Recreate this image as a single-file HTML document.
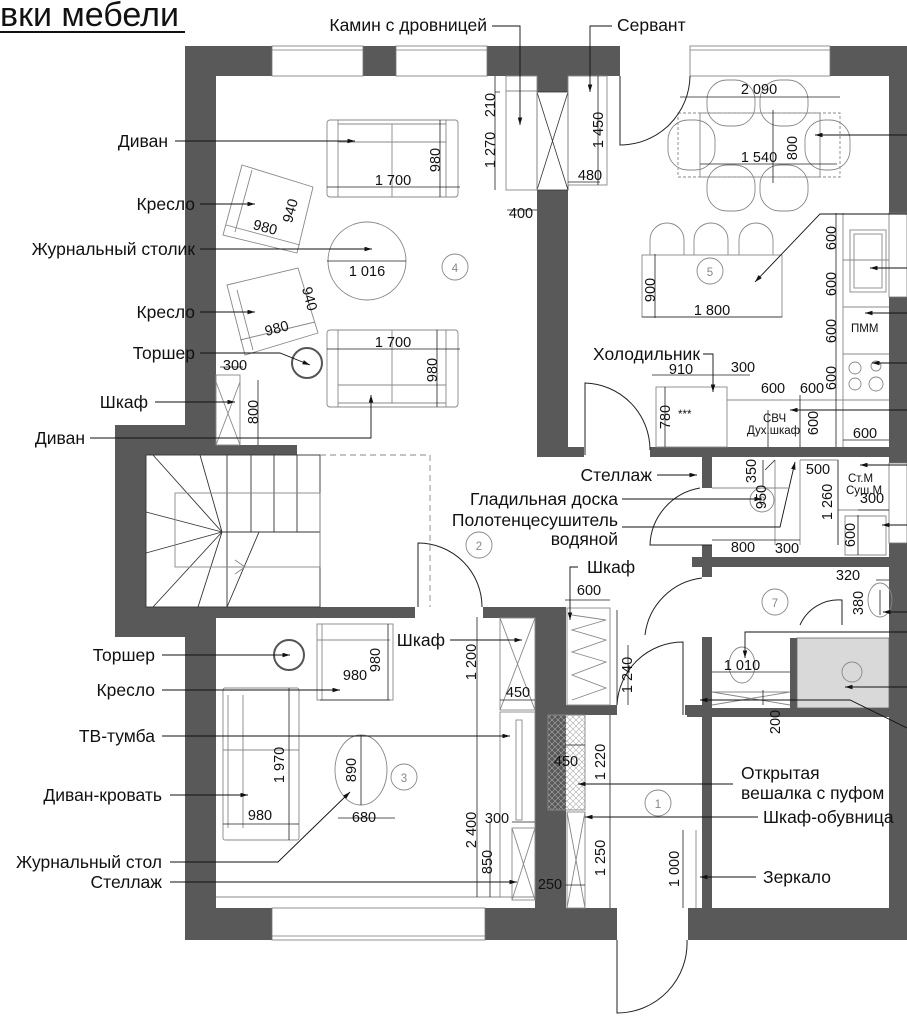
<!DOCTYPE html>
<html><head><meta charset="utf-8"><style>
html,body{margin:0;padding:0;background:#fff;}
svg{display:block;}
text{font-family:"Liberation Sans",sans-serif;fill:#111;}
.l{font-size:17.5px;}
.d{font-size:14.5px;}
.g{font-size:11.5px;fill:#888;}
</style></head><body>
<svg width="907" height="1024" viewBox="0 0 907 1024" xmlns="http://www.w3.org/2000/svg">
<defs>
<marker id="a" viewBox="0 0 10 6" refX="10" refY="3" markerWidth="9" markerHeight="5" orient="auto"><path d="M0,0L10,3L0,6z" fill="#111"/></marker>
<pattern id="h" width="6" height="6" patternUnits="userSpaceOnUse"><path d="M0,0L6,6M6,0L0,6" stroke="#aaa" stroke-width="0.6"/></pattern>
</defs>
<text x="0" y="26" style="font-size:34px">вки мебели</text>
<line x1="0" y1="32" x2="185" y2="32" stroke="#111" stroke-width="2"/>

<g fill="#595959">
<rect x="185" y="46" width="435" height="30"/>
<rect x="830" y="46" width="77" height="30"/>
<rect x="185" y="46" width="31" height="380"/>
<rect x="115" y="425" width="101" height="30"/>
<rect x="216" y="445" width="81" height="10"/>
<rect x="115" y="425" width="31" height="212"/>
<rect x="115" y="607" width="101" height="30"/>
<rect x="185" y="607" width="31" height="333"/>
<rect x="146" y="607" width="269" height="11"/>
<rect x="483" y="607" width="52" height="11"/>
<rect x="185" y="908" width="432" height="32"/>
<rect x="688" y="908" width="219" height="32"/>
<rect x="537" y="76" width="31" height="381"/>
<rect x="568" y="447" width="16" height="10"/>
<rect x="650" y="447" width="257" height="10"/>
<rect x="535" y="607" width="31" height="333"/>
<rect x="889" y="46" width="18" height="167"/>
<rect x="889" y="297" width="18" height="166"/>
<rect x="889" y="543" width="18" height="397"/>
<rect x="702" y="457" width="10" height="31"/>
<rect x="702" y="545" width="10" height="32"/>
<rect x="692" y="557" width="197" height="10"/>
<rect x="702" y="637" width="10" height="280"/>
<rect x="687" y="708" width="202" height="9"/>
<rect x="566" y="705" width="51" height="10"/>
<rect x="685" y="705" width="26" height="10"/>
<rect x="790" y="638" width="7" height="70"/>
</g>
<g fill="#fff" stroke="#777" stroke-width="0.8">
<rect x="272" y="46" width="91" height="30"/><line x1="272" y1="50" x2="363" y2="50"/>
<rect x="396" y="46" width="91" height="30"/><line x1="396" y1="50" x2="487" y2="50"/>
<rect x="690" y="46" width="140" height="30"/><line x1="690" y1="50" x2="830" y2="50"/>
<rect x="272" y="908" width="213" height="32"/><line x1="272" y1="936" x2="485" y2="936"/>
<rect x="889" y="213" width="18" height="84"/>
<rect x="889" y="463" width="18" height="80"/>
</g>
<rect x="537" y="92" width="31" height="98" fill="#fff" stroke="#333" stroke-width="0.8"/>
<path d="M537,92L568,190M568,92L537,190" stroke="#333" stroke-width="0.8"/>
<rect x="797" y="638" width="92" height="70" fill="#d9d9d9" stroke="#666" stroke-width="0.8"/>

<g fill="none" stroke="#888" stroke-width="0.9">
<rect x="506" y="76" width="31" height="114"/><line x1="506" y1="91" x2="537" y2="91"/>
<rect x="568" y="76" width="39" height="109"/>
<rect x="327" y="120" width="131" height="77" rx="3"/>
<path d="M338,120V197M392,124V197M446,120V197M338,124H446M338,142H446"/>
<rect x="327" y="330" width="131" height="77" rx="3"/>
<path d="M338,330V407M392,330V403M446,330V407M338,385H446M338,403H446"/>
<polygon points="242,165 313,187 297,253 223,235"/>
<path d="M252,170L235,232M226,225L300,245"/>
<polygon points="227,285 298,268 318,333 245,355"/>
<path d="M237,290L253,350M240,340L315,322"/>
<circle cx="367" cy="261" r="39"/>
<circle cx="307" cy="363" r="15" stroke="#555" stroke-width="2"/>
<rect x="216" y="375" width="24" height="70"/><path d="M216,382L240,445M240,382L216,445"/>
<rect x="146" y="455" width="174" height="152" stroke="#333"/>
<path d="M227,455V532M251,455V532M274,455V532M297,455V532M222,532H320M222,532L153,455M222,532L200,455M222,532L146,512M222,532L146,553M222,532L153,607M222,532L198,607M259,532L227,607M227,532V607" stroke="#333"/>
<rect x="175" y="493" width="145" height="74"/>
<path d="M222,567H245M235,560L245,567L235,574"/>
<path d="M320,455H430V607" stroke-dasharray="6,4"/>
<rect x="678" y="113" width="162" height="64" stroke-dasharray="3,2"/>
<rect x="700" y="113" width="120" height="64"/>
<rect x="707" y="80" width="48" height="46" rx="20"/><rect x="760" y="80" width="48" height="46" rx="20"/>
<rect x="707" y="165" width="48" height="46" rx="20"/><rect x="760" y="165" width="48" height="46" rx="20"/>
<rect x="668" y="120" width="47" height="50" rx="20"/><rect x="805" y="120" width="45" height="50" rx="20"/>
<rect x="642" y="255" width="140" height="62"/>
<path d="M650,255V240A17,17 0 0 1 684,240V255M694,255V240A17,17 0 0 1 728,240V255M739,255V240A17,17 0 0 1 773,240V255"/>
<path d="M843,213V447M843,260H889M843,307H889M843,354H889M843,400H889M727,400H843"/>
<rect x="850" y="230" width="36" height="62"/><rect x="854" y="234" width="28" height="54"/>
<circle cx="855" cy="368" r="6"/><circle cx="876" cy="366" r="5"/><circle cx="855" cy="384" r="6"/><circle cx="876" cy="384" r="7"/>
<rect x="656" y="387" width="71" height="60"/>
<path d="M712,488H788M775,460V545M800,460V545M800,460H838M838,460V545M838,510H889M845,516H886V555H845Z"/>
<ellipse cx="880" cy="600" rx="12" ry="17"/>
<circle cx="852" cy="672" r="10"/>
<ellipse cx="742" cy="665" rx="13" ry="18"/>
<path d="M712,692H790M712,692L790,705M790,692L712,705"/>
<rect x="317" y="624" width="76" height="76"/><path d="M322,624V700M317,640H390"/>
<rect x="223" y="688" width="76" height="152" rx="2"/><path d="M228,695V828M243,695V828M223,750H299"/>
<ellipse cx="361" cy="770" rx="26" ry="35"/>
<circle cx="289" cy="655" r="15" stroke="#555" stroke-width="2"/>
<rect x="500" y="618" width="35" height="92"/><path d="M500,618L535,710M535,618L500,710"/>
<rect x="500" y="712" width="35" height="185"/>
<rect x="516" y="720" width="6" height="100"/>
<rect x="512" y="828" width="23" height="72"/><path d="M512,828L535,900M535,828L512,900"/>
<line x1="216" y1="897" x2="535" y2="897"/>
<rect x="567" y="608" width="43" height="97"/>
<path d="M572,615L606,620L572,630L606,640L572,652L606,662L572,675L606,688L572,700"/>
<rect x="548" y="715" width="37" height="95" fill="url(#h)"/>
<rect x="567" y="812" width="18" height="96"/><path d="M567,812L585,908M585,812L567,908"/>
<line x1="696" y1="830" x2="696" y2="908"/>
<circle cx="455" cy="267" r="13"/><circle cx="710" cy="271" r="13"/><circle cx="479" cy="545" r="13"/>
<circle cx="404" cy="777" r="13"/><circle cx="775" cy="602" r="13"/><circle cx="658" cy="803" r="13"/><circle cx="762" cy="500" r="12"/>
</g>
<g fill="none" stroke="#222" stroke-width="1">
<path d="M620,76V145A70,70 0 0 0 690,76"/>
<path d="M585,455V383A67,67 0 0 1 650,450"/>
<path d="M418,607V543A64,64 0 0 1 482,607"/>
<path d="M712,545H650A60,60 0 0 1 700,488"/>
<path d="M645,635A65,65 0 0 1 702,578"/>
<path d="M683,715V642A66,66 0 0 0 617,705"/>
<path d="M617,940V1013A70,70 0 0 0 687,940"/>
<path d="M800,625A42,42 0 0 1 842,600V625"/>
</g>
<g text-anchor="middle">
<text x="455" y="272" class="g">4</text><text x="710" y="276" class="g">5</text><text x="479" y="550" class="g">2</text>
<text x="404" y="782" class="g">3</text><text x="775" y="607" class="g">7</text><text x="658" y="808" class="g">1</text><text x="762" y="505" class="g">6</text>
</g>
<g class="g"><text x="851" y="332">ПММ</text><text x="763" y="422">СВЧ</text><text x="747" y="434">Дух.шкаф</text><text x="848" y="482">Ст.М</text><text x="846" y="494">Суш.М</text><text x="678" y="418">***</text></g>

<g fill="none" stroke="#111" stroke-width="0.9" marker-end="url(#a)">
<path d="M492,26H520V125"/><path d="M612,26H590V92"/>
<path d="M175,141H355"/><path d="M200,204H255"/><path d="M200,249H372"/><path d="M200,312H255"/>
<path d="M200,353H280L310,365"/><path d="M155,402H235"/><path d="M90,438H371V395"/>
<path d="M703,354H713V392"/><path d="M657,475H697"/><path d="M622,499H762"/><path d="M622,527H780L795,462"/>
<path d="M578,567H570V620"/><path d="M450,640H522"/><path d="M162,655H290"/><path d="M162,690H340"/>
<path d="M162,736H510"/><path d="M170,795H248"/><path d="M170,862H278L350,792"/><path d="M170,882H517"/>
<path d="M733,784H578"/><path d="M758,817H585"/><path d="M756,877H700"/>
<path d="M907,135H815"/><path d="M907,214H820L755,282"/><path d="M907,268H870"/><path d="M907,313H865"/>
<path d="M907,363H872"/><path d="M907,410H790"/><path d="M907,465H860"/><path d="M907,525H882"/>
<path d="M907,612H883"/><path d="M907,632H745V658"/><path d="M907,687H845"/><path d="M907,728L850,700H700"/>
</g>
<g fill="none" stroke="#222" stroke-width="0.8">
<path d="M327,187H460M440,120V197M327,349H460M437,330V407M327,261H406"/>
<path d="M495,76V190M495,92H500M507,210H537M568,182H600M598,76V185"/>
<path d="M220,367H243M258,380V445"/>
<path d="M680,97H840M773,110V183M700,164H837M642,317H782M655,254V318"/>
<path d="M836,213V447M843,440H889M652,375H726M726,375H750M665,387V447M768,410V447M800,395V447"/>
<path d="M712,540H775M775,540H800M763,460V487M838,460V545M858,510H889M858,515V555M765,470L775,460"/>
<path d="M876,580H889M880,590V615M712,672H790M763,690V705"/>
<path d="M320,700H390M388,624V700M223,824H299M289,688V840M338,818H395M361,735V805"/>
<path d="M477,617V897M500,700H535M512,822H535M490,822V897"/>
<path d="M565,600H610M565,745H585M617,610V705M628,645V705M610,715V812M610,812V908M565,885H585M683,830V908"/>
</g>
<g class="l">
<text x="487" y="31" text-anchor="end">Камин с дровницей</text>
<text x="617" y="31">Сервант</text>
<text x="168" y="147" text-anchor="end">Диван</text>
<text x="195" y="210" text-anchor="end">Кресло</text>
<text x="195" y="255" text-anchor="end">Журнальный столик</text>
<text x="195" y="318" text-anchor="end">Кресло</text>
<text x="195" y="359" text-anchor="end">Торшер</text>
<text x="148" y="408" text-anchor="end">Шкаф</text>
<text x="85" y="444" text-anchor="end">Диван</text>
<text x="700" y="360" text-anchor="end">Холодильник</text>
<text x="652" y="481" text-anchor="end">Стеллаж</text>
<text x="618" y="505" text-anchor="end">Гладильная доска</text>
<text x="618" y="526" text-anchor="end">Полотенцесушитель</text>
<text x="618" y="545" text-anchor="end">водяной</text>
<text x="587" y="573">Шкаф</text>
<text x="445" y="646" text-anchor="end">Шкаф</text>
<text x="155" y="661" text-anchor="end">Торшер</text>
<text x="155" y="696" text-anchor="end">Кресло</text>
<text x="155" y="742" text-anchor="end">ТВ-тумба</text>
<text x="162" y="801" text-anchor="end">Диван-кровать</text>
<text x="162" y="868" text-anchor="end">Журнальный стол</text>
<text x="162" y="888" text-anchor="end">Стеллаж</text>
<text x="741" y="779">Открытая</text>
<text x="741" y="799">вешалка с пуфом</text>
<text x="763" y="823">Шкаф-обувница</text>
<text x="763" y="883">Зеркало</text>
</g>
<g class="d" text-anchor="middle">
<text x="393" y="185">1 700</text><text x="393" y="347">1 700</text><text x="367" y="276">1 016</text>
<text x="235" y="370">300</text><text x="521" y="218">400</text><text x="590" y="180">480</text>
<text x="759" y="94">2 090</text><text x="759" y="162">1 540</text><text x="712" y="315">1 800</text>
<text x="681" y="374">910</text><text x="743" y="372">300</text><text x="773" y="393">600</text><text x="812" y="393">600</text>
<text x="865" y="438">600</text><text x="818" y="474">500</text><text x="743" y="552">800</text><text x="787" y="553">300</text>
<text x="848" y="580">320</text><text x="742" y="670">1 010</text>
<text x="355" y="680">980</text>
<text x="260" y="820">980</text><text x="364" y="822">680</text><text x="518" y="697">450</text>
<text x="566" y="766">450</text><text x="589" y="595">600</text><text x="497" y="823">300</text><text x="550" y="889">250</text>
<text x="872" y="503">300</text>
<text x="264" y="232" transform="rotate(15 264 232)">980</text>
<text x="278" y="333" transform="rotate(-15 278 333)">980</text>
</g>
<g class="d" text-anchor="middle">
<text transform="translate(440,160) rotate(-90)">980</text>
<text transform="translate(437,370) rotate(-90)">980</text>
<text transform="translate(495,105) rotate(-90)">210</text>
<text transform="translate(495,150) rotate(-90)">1 270</text>
<text transform="translate(603,130) rotate(-90)">1 450</text>
<text transform="translate(295,212) rotate(-75)">940</text>
<text transform="translate(305,300) rotate(75)">940</text>
<text transform="translate(258,412) rotate(-90)">800</text>
<text transform="translate(797,148) rotate(-90)">800</text>
<text transform="translate(655,290) rotate(-90)">900</text>
<text transform="translate(836,238) rotate(-90)">600</text>
<text transform="translate(836,284) rotate(-90)">600</text>
<text transform="translate(836,331) rotate(-90)">600</text>
<text transform="translate(836,378) rotate(-90)">600</text>
<text transform="translate(670,417) rotate(-90)">780</text>
<text transform="translate(818,423) rotate(-90)">600</text>
<text transform="translate(756,471) rotate(-90)">350</text>
<text transform="translate(766,497) rotate(-90)">950</text>
<text transform="translate(832,502) rotate(-90)">1 260</text>
<text transform="translate(855,535) rotate(-90)">600</text>
<text transform="translate(863,603) rotate(-90)">380</text>
<text transform="translate(780,722) rotate(-90)">200</text>
<text transform="translate(380,660) rotate(-90)">980</text>
<text transform="translate(284,765) rotate(-90)">1 970</text>
<text transform="translate(356,770) rotate(-90)">890</text>
<text transform="translate(476,662) rotate(-90)">1 200</text>
<text transform="translate(476,830) rotate(-90)">2 400</text>
<text transform="translate(492,862) rotate(-90)">850</text>
<text transform="translate(632,675) rotate(-90)">1 240</text>
<text transform="translate(605,762) rotate(-90)">1 220</text>
<text transform="translate(605,858) rotate(-90)">1 250</text>
<text transform="translate(679,869) rotate(-90)">1 000</text>
</g>
</svg>
</body></html>
